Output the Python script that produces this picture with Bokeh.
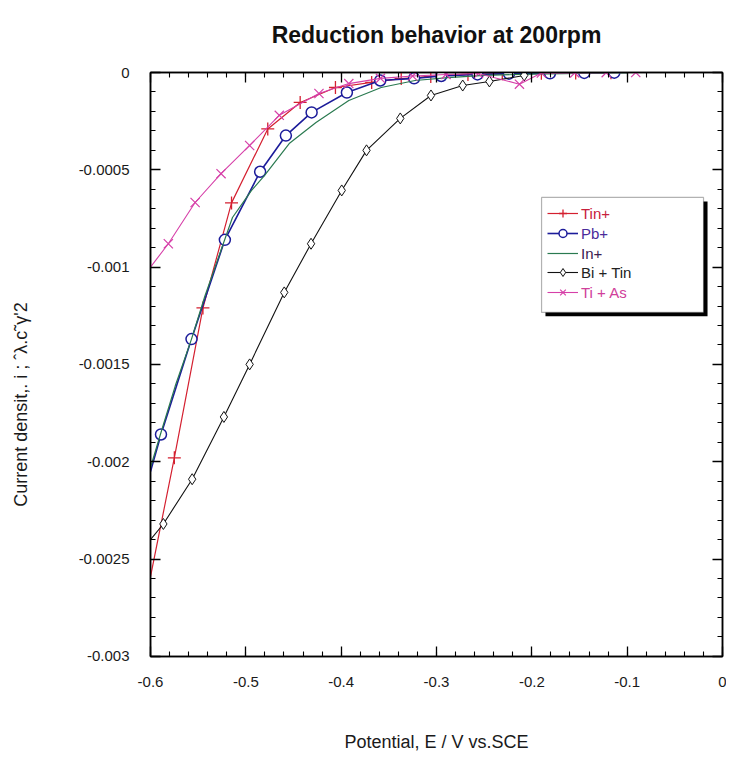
from bokeh.plotting import figure
from bokeh.models import (Legend, LegendItem, LinearAxis, BoxAnnotation, Range1d,
                          SingleIntervalTicker, CustomJSTickFormatter, CustomLabelingPolicy)
from bokeh.embed import file_html
from bokeh.resources import INLINE

# ---- data ----
tin_x = [-0.600, -0.575, -0.545, -0.515, -0.477, -0.443, -0.406, -0.368, -0.337,
         -0.306, -0.267, -0.231, -0.190, -0.154, -0.117]
tin_y = [-0.00259, -0.00198, -0.00121, -0.00067, -0.00029, -0.000154, -0.000077,
         -0.000051, -0.000031, -0.00002, -0.00001, -0.000006, -0.000004, -0.000002, -0.000001]

pb_x = [-0.600, -0.589, -0.557, -0.522, -0.485, -0.458, -0.431, -0.394, -0.359,
        -0.3235, -0.295, -0.257, -0.224, -0.181, -0.145, -0.1135]
pb_y = [-0.00205, -0.00186, -0.00137, -0.00086, -0.00051, -0.000324, -0.000205,
        -0.000103, -0.000041, -0.00003, -0.000018, -0.00001, -0.000006, -0.000004,
        -0.000002, -0.000001]

in_x = [-0.600, -0.589, -0.574, -0.557, -0.543, -0.514, -0.494, -0.4805, -0.4545,
        -0.4264, -0.392, -0.358, -0.3225, -0.288, -0.25, -0.2, -0.15, -0.1]
in_y = [-0.00203, -0.00185, -0.00161, -0.00137, -0.00115, -0.000745, -0.000606,
        -0.00053, -0.000365, -0.000257, -0.000144, -0.000077, -0.000041, -0.000026,
        -0.000015, -0.000008, -0.000004, -0.000002]

bi_x = [-0.600, -0.5865, -0.5563, -0.523, -0.496, -0.4597, -0.4316, -0.3994, -0.3734,
        -0.338, -0.3058, -0.2725, -0.2445, -0.208]
bi_y = [-0.0024, -0.00232, -0.00209, -0.00177, -0.0015, -0.00113, -0.00088, -0.000606,
        -0.0004, -0.000236, -0.000118, -0.000067, -0.000046, -0.000015]

ti_x = [-0.600, -0.5813, -0.5532, -0.526, -0.496, -0.4649, -0.4233, -0.392, -0.3588,
        -0.325, -0.29, -0.256, -0.213, -0.19, -0.155, -0.122, -0.091]
ti_y = [-0.001, -0.00088, -0.000668, -0.00052, -0.000375, -0.00022, -0.000108,
        -0.000057, -0.00003, -0.000018, -0.00001, -0.000005, -0.00006, -0.000003,
        -0.000002, -0.000001, 0.0]

series_names = ["Tin+", "Pb+", "In+", "Bi + Tin", "Ti + As"]
x_tick_step = 0.1
y_tick_step = 0.0005

FONT = "Liberation Sans"
NBSP = "\u00a0"

p = figure(width=726, height=756, x_range=Range1d(-0.600001, 0.0), y_range=Range1d(-0.003001, 0.0),
           output_backend="svg", toolbar_location=None,
           min_border_left=150, min_border_right=4, min_border_top=72, min_border_bottom=100)
p.background_fill_color = "white"
p.border_fill_color = "white"
p.outline_line_color = "black"
p.outline_line_width = 1.5
p.grid.visible = False

p.title.text = "Reduction behavior at 200rpm"
p.title.align = "center"
p.title.text_font = FONT
p.title.text_font_style = "bold"
p.title.text_font_size = "23px"
p.title.text_color = "#111111"
p.title.standoff = 4

xt = SingleIntervalTicker(interval=x_tick_step, num_minor_ticks=5)
yt = SingleIntervalTicker(interval=y_tick_step, num_minor_ticks=5)
xfmt = CustomJSTickFormatter(code="return Number(tick.toFixed(2)).toString();")
yfmt = CustomJSTickFormatter(code="return Number(tick.toFixed(4)).toString();")
no_labels = CustomLabelingPolicy(code="for (const i of indices) { indices.unset(i) }\nreturn indices")

def style_axis(ax, labels=True):
    ax.axis_line_color = "black"
    ax.axis_line_width = 1.5
    ax.major_tick_in = 10
    ax.major_tick_out = 0
    ax.minor_tick_in = 5
    ax.minor_tick_out = 0
    ax.major_tick_line_color = "black"
    ax.minor_tick_line_color = "black"
    ax.major_tick_line_width = 1.3
    ax.minor_tick_line_width = 1.1
    if labels:
        ax.major_label_text_font = FONT
        ax.major_label_text_font_size = "15px"
        ax.major_label_text_color = "#1a1a1a"
        ax.axis_label_text_font = FONT
        ax.axis_label_text_font_size = "18px"
        ax.axis_label_text_font_style = "normal"
        ax.axis_label_text_color = "#1a1a1a"
    else:
        ax.major_label_policy = no_labels
        ax.major_label_text_font_size = "0px"
        ax.major_label_standoff = 0

p.xaxis.ticker = xt
p.xaxis.formatter = xfmt
p.yaxis.ticker = yt
p.yaxis.formatter = yfmt
style_axis(p.xaxis[0])
style_axis(p.yaxis[0])
p.xaxis.major_label_standoff = 20
p.yaxis.major_label_standoff = 21
p.xaxis.axis_label = "Potential, E / V vs.SCE"
p.xaxis.axis_label_standoff = 42
# trailing no-break spaces move the visible caption a little below the frame centre
p.yaxis.axis_label = "Current densit,. i ; ˆλ.c˜γ'2" + NBSP * 16
p.yaxis.axis_label_standoff = 45

top_ax = LinearAxis(ticker=SingleIntervalTicker(interval=x_tick_step, num_minor_ticks=5))
style_axis(top_ax, labels=False)
top_ax.major_label_text_font_size = "1px"
top_ax.major_label_standoff = 19
p.add_layout(top_ax, "above")
right_ax = LinearAxis(ticker=SingleIntervalTicker(interval=y_tick_step, num_minor_ticks=5))
style_axis(right_ax, labels=False)
p.add_layout(right_ax, "right")

# ---- series ----
c_tin, c_pb, c_in, c_bi, c_ti = "#d42030", "#1c1c9a", "#2a7a50", "#111111", "#d63fa8"

r_tin_l = p.line(tin_x, tin_y, line_color=c_tin, line_width=1.2)
r_tin_m = p.scatter(tin_x[1:], tin_y[1:], marker="cross", size=13, line_color=c_tin, line_width=1.3)

r_pb_l = p.line(pb_x, pb_y, line_color=c_pb, line_width=1.6)
r_pb_m = p.scatter(pb_x[1:], pb_y[1:], marker="circle", size=11, line_color=c_pb,
                   fill_color="white", line_width=1.5)

r_in_l = p.line(in_x, in_y, line_color=c_in, line_width=1.2)

r_bi_l = p.line(bi_x, bi_y, line_color=c_bi, line_width=1.1)
r_bi_m = p.scatter(bi_x[1:], bi_y[1:], marker="diamond", size=11, line_color=c_bi,
                   fill_color="white", line_width=1.0)

r_ti_l = p.line(ti_x, ti_y, line_color=c_ti, line_width=1.1)
r_ti_m = p.scatter(ti_x[1:], ti_y[1:], marker="x", size=13, line_color=c_ti, line_width=1.2)

# ---- legend box with shadow (data-space placement) ----
p.add_layout(BoxAnnotation(left=-0.1857, right=-0.0157, top=-0.000663, bottom=-0.001253,
                           fill_color="black", fill_alpha=1.0, line_alpha=0, level="overlay"))
p.add_layout(BoxAnnotation(left=-0.1898, right=-0.0199, top=-0.000642, bottom=-0.001233,
                           fill_color="white", fill_alpha=1.0, line_color="black",
                           line_width=1.2, level="overlay"))

entries = [
    (series_names[0], [r_tin_l, r_tin_m], "#c8203c", 433),
    (series_names[1], [r_pb_l, r_pb_m], "#4a2a9a", 413),
    (series_names[2], [r_in_l], "#3a2050", 393),
    (series_names[3], [r_bi_l, r_bi_m], "#222222", 374),
    (series_names[4], [r_ti_l, r_ti_m], "#d0409a", 354),
]
for name, rends, tcol, vy in entries:
    lg = Legend(items=[LegendItem(label=name, renderers=rends)], location=(397, vy),
                border_line_alpha=0, background_fill_alpha=0, padding=0, margin=0,
                glyph_width=31, glyph_height=20, label_height=20, label_standoff=3,
                label_text_font=FONT, label_text_font_size="15px", label_text_color=tcol,
                spacing=0)
    p.add_layout(lg, "center")

open("out.html", "w").write(file_html(p, INLINE))
